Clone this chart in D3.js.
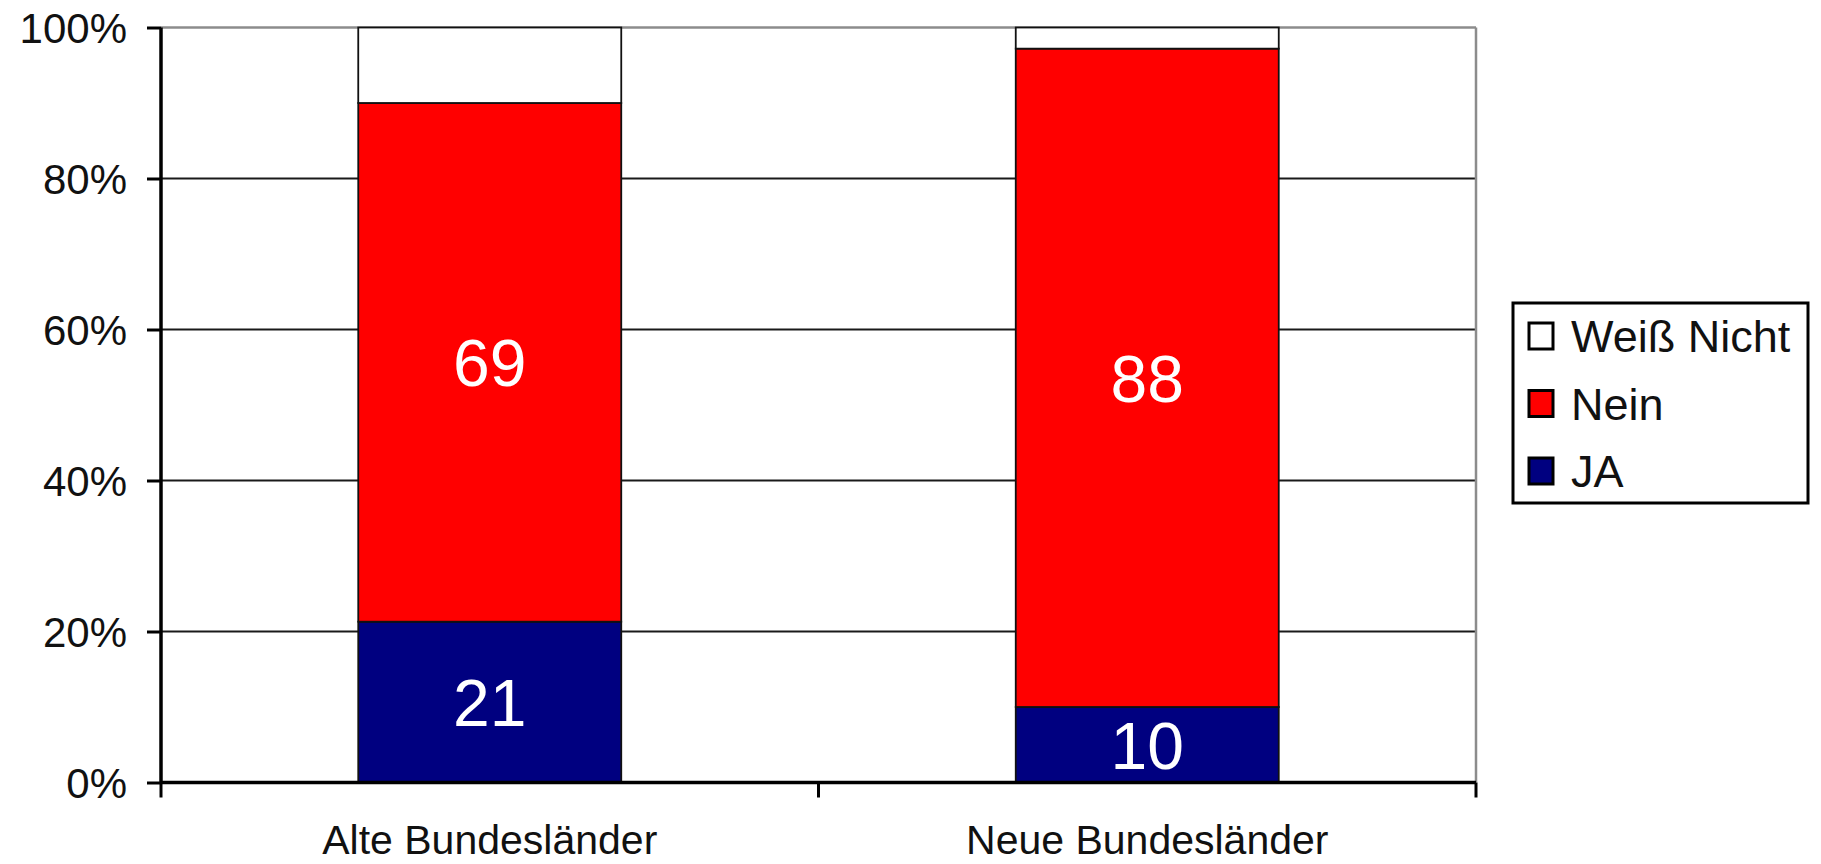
<!DOCTYPE html>
<html lang="de">
<head>
    <meta charset="utf-8" />
    <title>Umfrage - Alte und Neue Bundesländer</title>
    <script src="https://cdn.jsdelivr.net/npm/d3@7"></script>
    <style>
        body { margin: 0; background: #fff; }
        text { font-family: "Liberation Sans", Arial, sans-serif; }
    </style>
</head>
<body>
    <div id="chart"></div>
    <script>
        // data (percent)
        var categories = ["Alte Bundesländer", "Neue Bundesländer"];
        var seriesNames = ["JA", "Nein", "Weiß Nicht"];
        var jaValues = [21.3, 10];
        var neinValues = [68.7, 87.2];
        var weissNichtValues = [10, 2.8];
        var jaLabels = ["21", "10"];
        var neinLabels = ["69", "88"];
        var yTicks = [0, 20, 40, 60, 80, 100];
        var colors = { "JA": "#000080", "Nein": "#ff0000", "Weiß Nicht": "#ffffff" };

        var width = 1821, height = 864;
        var plotLeft = 161, plotRight = 1476, plotTop = 27.5, plotBottom = 782.5;

        var svg = d3.select("#chart").append("svg")
            .attr("width", width)
            .attr("height", height);

        var x = d3.scaleBand().domain(categories).range([plotLeft, plotRight])
            .paddingInner(0.6).paddingOuter(0.3);
        var y = d3.scaleLinear().domain([0, 100]).range([plotBottom, plotTop]);

        // table for the stack
        var table = categories.map(function (c, i) {
            return { cat: c, "JA": jaValues[i], "Nein": neinValues[i], "Weiß Nicht": weissNichtValues[i],
                     jaLabel: jaLabels[i], neinLabel: neinLabels[i] };
        });
        var stacked = d3.stack().keys(seriesNames)(table);

        // gridlines
        svg.append("g").selectAll("line")
            .data(yTicks.filter(function (t) { return t > 0; }))
            .enter().append("line")
            .attr("x1", plotLeft).attr("x2", plotRight)
            .attr("y1", function (t) { return y(t); })
            .attr("y2", function (t) { return y(t); })
            .attr("stroke", function (t) { return t === 100 ? "#8c8c8c" : "#1a1a1a"; })
            .attr("stroke-width", function (t) { return t === 100 ? 2.5 : 2; });

        // right border of plot
        svg.append("line")
            .attr("x1", plotRight).attr("x2", plotRight)
            .attr("y1", plotTop).attr("y2", plotBottom)
            .attr("stroke", "#8c8c8c").attr("stroke-width", 2.5);

        // bars
        svg.append("g").selectAll("g")
            .data(stacked)
            .enter().append("g")
            .attr("fill", function (s) { return colors[s.key]; })
            .selectAll("rect")
            .data(function (s) { return s; })
            .enter().append("rect")
            .attr("x", function (d) { return x(d.data.cat); })
            .attr("width", x.bandwidth())
            .attr("y", function (d) { return y(d[1]); })
            .attr("height", function (d) { return y(d[0]) - y(d[1]); })
            .attr("stroke", "#111")
            .attr("stroke-width", 1.8);

        // value labels
        var labelled = [
            { key: "JA", field: "jaLabel" },
            { key: "Nein", field: "neinLabel" }
        ];
        labelled.forEach(function (l) {
            var layer = stacked.find(function (s) { return s.key === l.key; });
            svg.append("g").selectAll("text")
                .data(layer)
                .enter().append("text")
                .attr("x", function (d) { return x(d.data.cat) + x.bandwidth() / 2; })
                .attr("y", function (d) { return (y(d[0]) + y(d[1])) / 2; })
                .attr("dy", "0.36em")
                .attr("text-anchor", "middle")
                .attr("fill", "#fff")
                .style("font-size", "66px")
                .text(function (d) { return d.data[l.field]; });
        });

        // y axis
        var yAxis = svg.append("g")
            .attr("transform", "translate(" + plotLeft + ",0)")
            .call(d3.axisLeft(y).tickValues(yTicks).tickSize(14).tickPadding(20)
                .tickFormat(function (t) { return t + "%"; }));
        yAxis.select(".domain").attr("stroke", "#000").attr("stroke-width", 3.5)
            .attr("d", "M0," + plotTop + "V" + plotBottom);
        yAxis.selectAll(".tick line").attr("stroke", "#000").attr("stroke-width", 3);
        yAxis.selectAll(".tick text").style("font-size", "42px").attr("fill", "#111")
            .attr("dy", "0.36em");

        // x axis
        var xAxis = svg.append("g")
            .attr("transform", "translate(0," + plotBottom + ")")
            .call(d3.axisBottom(x).tickSize(0).tickPadding(42));
        xAxis.select(".domain").attr("stroke", "#000").attr("stroke-width", 3.5)
            .attr("d", "M" + plotLeft + ",0H" + plotRight);
        xAxis.selectAll(".tick text").style("font-size", "41px").attr("fill", "#111");

        // category separators on the x axis
        var sepX = [plotLeft, plotLeft + x.step() * (x.paddingOuter() + 1 - x.paddingInner() / 2), plotRight];
        xAxis.selectAll(".sep")
            .data(sepX)
            .enter().append("line")
            .attr("class", "sep")
            .attr("x1", function (d) { return d; })
            .attr("x2", function (d) { return d; })
            .attr("y1", 0).attr("y2", 15)
            .attr("stroke", "#000").attr("stroke-width", 3);

        // legend
        var legend = svg.append("g").attr("transform", "translate(1513,303)");
        legend.append("rect")
            .attr("width", 295).attr("height", 200)
            .attr("fill", "#fff").attr("stroke", "#000").attr("stroke-width", 3);
        var legendOrder = seriesNames.slice().reverse();
        var item = legend.selectAll(".item")
            .data(legendOrder)
            .enter().append("g")
            .attr("class", "item")
            .attr("transform", function (d, i) { return "translate(0," + (33 + i * 67.5) + ")"; });
        item.append("rect")
            .attr("x", 16).attr("y", -13).attr("width", 24).attr("height", 26)
            .attr("fill", function (d) { return colors[d]; })
            .attr("stroke", "#000").attr("stroke-width", 3);
        item.append("text")
            .attr("x", 58).attr("dy", "0.36em")
            .style("font-size", "45px").attr("fill", "#111")
            .text(function (d) { return d; });
    </script>
</body>
</html>
